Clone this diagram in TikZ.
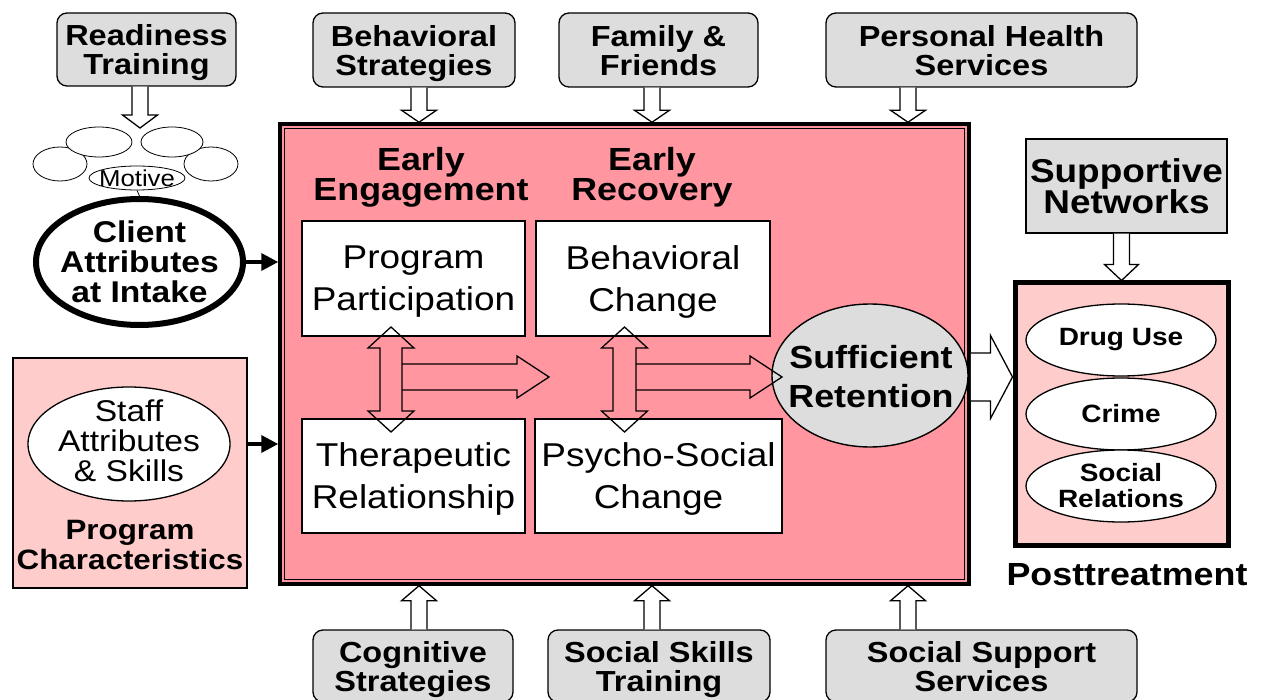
\documentclass[tikz,border=0pt]{standalone}
\usepackage{fontspec}
\setmainfont{Liberation Sans}[FakeStretch=1.12]
\usetikzlibrary{shapes.geometric,arrows.meta,calc}

\definecolor{corepink}{RGB}{255,150,160}
\definecolor{softpink}{RGB}{255,204,204}
\definecolor{boxgray}{RGB}{221,221,221}

\tikzset{
  every node/.style={inner sep=0pt, align=center},
  influence/.style={draw, rounded corners=10pt, fill=boxgray, line width=1.3pt, text depth=0pt,
    font=\bfseries\fontsize{29}{29}\selectfont},
  corebox/.style={draw, fill=corepink, line width=3.5pt},
  stage/.style={draw, fill=white, line width=1.4pt, text depth=0pt, font=\fontsize{33}{42}\selectfont},
  heading/.style={font=\bfseries\fontsize{32}{30}\selectfont},
  outcome/.style={draw, ellipse, fill=white, line width=1.3pt, minimum width=190pt,
    minimum height=72pt, font=\bfseries\fontsize{25}{26}\selectfont},
  bubble/.style={draw, ellipse, fill=white, line width=0.8pt},
  tube/.style={draw, line width=1.3pt, line join=miter},
  feed/.style={line width=3.5pt, -{Triangle[length=17pt,width=17pt]}},
}

% hollow block arrow: [style] start, tip, half shaft, half head, head length
\newcommand{\blockarrow}[6][]{%
  \coordinate (hb) at ($(#3)!#6!(#2)$);
  \draw[tube,#1] ($(#2)!#4!90:(#3)$) -- ($(hb)!#4!90:(#3)$) -- ($(hb)!#5!90:(#3)$) -- (#3)
    -- ($(hb)!#5!-90:(#3)$) -- ($(hb)!#4!-90:(#3)$) -- ($(#2)!#4!-90:(#3)$);
}
% same with a head at both ends
\newcommand{\twowayarrow}[6][]{%
  \coordinate (ha) at ($(#2)!#6!(#3)$);
  \coordinate (hb) at ($(#3)!#6!(#2)$);
  \draw[tube,#1] (#2) -- ($(ha)!#5!90:(#3)$) -- ($(ha)!#4!90:(#3)$) -- ($(hb)!#4!90:(#3)$)
    -- ($(hb)!#5!90:(#3)$) -- (#3) -- ($(hb)!#5!-90:(#3)$) -- ($(hb)!#4!-90:(#3)$)
    -- ($(ha)!#4!-90:(#3)$) -- ($(ha)!#5!-90:(#3)$) -- cycle;
}

\begin{document}
\begin{tikzpicture}[x=1pt,y=-1pt]
  \useasboundingbox (0,0) rectangle (1263,700);
  \clip (0,0) rectangle (1263,700);

  % treatment process
  \node[corebox, minimum width=689pt, minimum height=460pt] (main) at (624.5,354) {};
  \draw[line width=1.2pt] ([shift={(6,6)}]main.north west) rectangle ([shift={(-6,-6)}]main.south east);

  \node[heading] (ee) at (421,177) {Early\\Engagement};
  \node[heading] (er) at (652,177) {Early\\Recovery};

  \node[stage, minimum width=223pt, minimum height=115pt] (pp) at (413.5,278.5) {Program\\Participation};
  \node[stage, minimum width=234pt, minimum height=115pt] (bc) at (653,278.5) {Behavioral\\Change};
  \node[stage, minimum width=223pt, minimum height=114pt] (tr) at (413.5,476) {Therapeutic\\Relationship};
  \node[stage, minimum width=247pt, minimum height=114pt] (ps) at (658.5,476) {Psycho-Social\\Change};

  \node[draw, ellipse, fill=boxgray, line width=1.4pt, minimum width=196pt, minimum height=143pt] (sr) at (870,375.5) {};
  \node[font=\bfseries\fontsize{32}{39}\selectfont] at (871,377) {Sufficient\\Retention};

  \coordinate (pp-tip) at (391,327);
  \coordinate (tr-tip) at (391,432);
  \coordinate (bc-tip) at (624.5,327);
  \coordinate (ps-tip) at (624.5,432);
  \twowayarrow{pp-tip}{tr-tip}{11pt}{23pt}{21pt}
  \twowayarrow{bc-tip}{ps-tip}{11.5pt}{23pt}{21pt}

  \coordinate (ee-out) at (402,377);
  \coordinate (er-in) at (549,377);
  \coordinate (er-out) at (636,377);
  \coordinate (sr-in) at (782,377);
  \blockarrow{ee-out}{er-in}{13pt}{21pt}{32pt}
  \blockarrow{er-out}{sr-in}{13pt}{21pt}{32pt}

  % client side
  \node[influence, minimum width=179pt, minimum height=73pt] (rt) at (146.5,49.5) {Readiness\\Training};
  \node[bubble, minimum width=54pt, minimum height=34pt] (m1) at (60,164) {};
  \node[bubble, minimum width=54pt, minimum height=34pt] (m2) at (211,164) {};
  \node[bubble, minimum width=66pt, minimum height=30pt] (m3) at (99,142) {};
  \node[bubble, minimum width=62pt, minimum height=30pt] (m4) at (172,142) {};
  \node[bubble, minimum width=96pt, minimum height=24pt] (mo) at (137,178) {};
  \node[font=\fontsize{23}{23}\selectfont] at (mo) {Motive};

  \node[draw, ellipse, line width=6pt, minimum width=207pt, minimum height=126pt] (cl) at (139.5,262) {};
  \node[font=\bfseries\fontsize{30}{30}\selectfont] at (139.5,262) {Client\\Attributes\\at Intake};
  \draw[line width=0.8pt] (mo.south) -- (cl.north);

  \coordinate (rt-tip) at (140,128);
  \coordinate (rt-out) at (rt-tip |- rt.south);
  \blockarrow[fill=white]{rt-out}{rt-tip}{8pt}{17.5pt}{13pt}

  \node[draw, fill=softpink, line width=1.3pt, minimum width=234pt, minimum height=230pt] (pc) at (130,473) {};
  \node[draw, ellipse, fill=white, line width=1.3pt, minimum width=202pt, minimum height=114pt] (st) at (129,444) {};
  \node[font=\fontsize{30}{30}\selectfont] at (129,441) {Staff\\Attributes\\\& Skills};
  \node[font=\bfseries\fontsize{28}{30}\selectfont] at (130,545) {Program\\Characteristics};

  \draw[feed] (cl.east) -- (main.west |- cl.east);
  \draw[feed] (pc.east |- st.east) -- (main.west |- st.east);

  % influences above and below
  \node[influence, minimum width=202pt, minimum height=74pt] (bs) at (414,50) {Behavioral\\Strategies};
  \node[influence, minimum width=199pt, minimum height=74pt] (ff) at (658.5,50) {Family \&\\Friends};
  \node[influence, minimum width=311pt, minimum height=74pt] (ph) at (981.5,50) {Personal Health\\Services};

  \node[influence, minimum width=200pt, minimum height=72pt] (cs) at (413,666) {Cognitive\\Strategies};
  \node[influence, minimum width=222pt, minimum height=72pt] (sk) at (659,666) {Social Skills\\Training};
  \node[influence, minimum width=311pt, minimum height=72pt] (ss) at (981.5,666) {Social Support\\Services};

  \foreach \src/\ax in {bs/419,ff/652,ph/908}{
    \coordinate (\src-out) at (\ax,0 |- \src.south);
    \coordinate (\src-in) at (\ax,0 |- main.north);
    \blockarrow[fill=white]{\src-out}{\src-in}{8pt}{17.5pt}{12pt}
  }
  \foreach \src/\ax in {cs/419,sk/652,ss/908}{
    \coordinate (\src-out) at (\ax,0 |- \src.north);
    \coordinate (\src-in) at (\ax,0 |- main.south);
    \blockarrow[fill=white]{\src-out}{\src-in}{8pt}{17.5pt}{15pt}
  }

  % outcomes
  \node[draw, fill=boxgray, line width=1.3pt, minimum width=201pt, minimum height=94pt,
    font=\bfseries\fontsize{33}{31}\selectfont] (sn) at (1126.5,186) {Supportive\\Networks};
  \node[draw, fill=softpink, line width=5pt, minimum width=213pt, minimum height=262pt] (pt) at (1121.5,414) {};
  \node[outcome] (du) at (1121,340) {Drug Use};
  \node[outcome] (cr) at (1121,414) {Crime};
  \node[outcome] (so) at (1121,486) {Social\\Relations};
  \node[heading] (ptl) at (1127,575) {Posttreatment};

  \coordinate (sn-out) at (pt.north |- sn.south);
  \blockarrow[fill=white]{sn-out}{pt.north}{8pt}{17pt}{16pt}

  \coordinate (sr-out) at (main.east |- sr-in);
  \coordinate (pt-in) at (pt.west |- sr-in);
  \blockarrow[fill=white]{sr-out}{pt-in}{24pt}{41.5pt}{22pt}
\end{tikzpicture}
\end{document}
